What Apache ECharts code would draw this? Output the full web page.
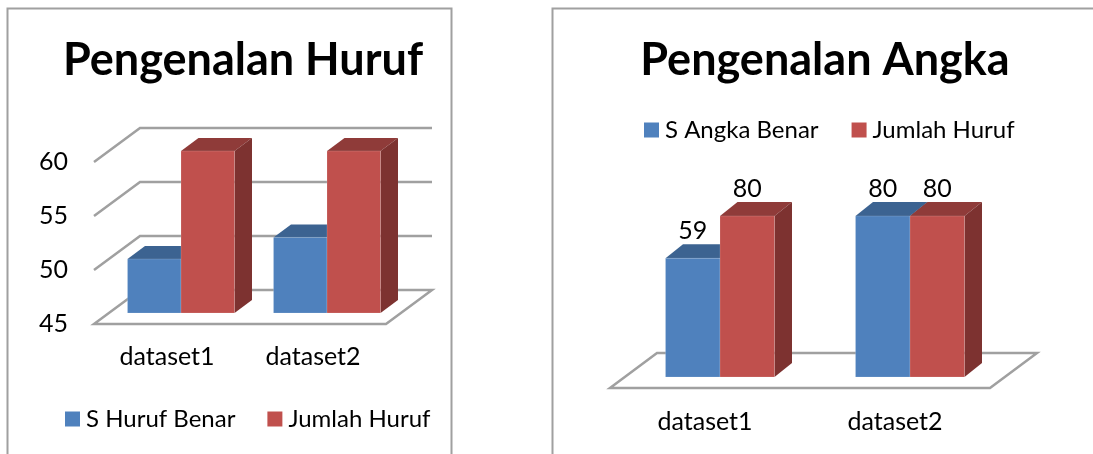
<!DOCTYPE html>
<html lang="en">
<head>
    <meta charset="UTF-8">
    <title>Pengenalan Huruf dan Angka</title>
    <script src="https://cdn.jsdelivr.net/npm/echarts@6/dist/echarts.min.js"></script>
    <style>
        html, body { margin: 0; padding: 0; background: #fff; overflow: hidden; }
        #chart { width: 1093px; height: 454px; }
    </style>
</head>
<body>
<div id="chart"></div>
<script type="application/javascript">
    // chart values
    var categories = ['dataset1', 'dataset2'];
    var hurufBenar = [50, 52];
    var hurufJumlah = [60, 60];
    var angkaBenar = [59, 80];
    var angkaJumlah = [80, 80];
    var hurufTicks = [45, 50, 55, 60];
    var angkaTicks = [0];

    var FONT = 'Lato';
    var blue = {front: '#4F81BD', top: '#3C6391', side: '#355980'};
    var red = {front: '#C0504D', top: '#8F3B39', side: '#7D3230'};
    var LINE = '#A0A0A0';

    var chart = echarts.init(document.getElementById('chart'));

    // walls and floor of the fake 3d box, one item per tick of the value axis
    function boxSeries(gridIndex, ticks, dx, dy) {
        return {
            type: 'custom',
            xAxisIndex: gridIndex,
            yAxisIndex: gridIndex,
            silent: true,
            clip: false,
            z: 1,
            data: ticks.map(function (v) { return [0, v]; }),
            renderItem: function (params, api) {
                var cs = params.coordSys;
                var y = api.coord([0, api.value(1)])[1];
                var x0 = cs.x, x1 = cs.x + cs.width;
                var lineStyle = {stroke: LINE, lineWidth: 2.5, fill: null};
                if (api.value(1) === ticks[0]) {
                    return {
                        type: 'polygon',
                        shape: {points: [[x0, y], [x0 + dx, y + dy], [x1 + dx, y + dy], [x1, y]]},
                        style: {fill: '#fff', stroke: LINE, lineWidth: 2.5}
                    };
                }
                return {
                    type: 'polyline',
                    shape: {points: [[x0, y], [x0 + dx, y + dy], [x1 + dx, y + dy]]},
                    style: lineStyle
                };
            }
        };
    }

    // one series of 3d looking columns, front/top/side faces
    function barSeries(gridIndex, name, values, order, colors, opt) {
        return {
            type: 'custom',
            name: name,
            xAxisIndex: gridIndex,
            yAxisIndex: gridIndex,
            clip: false,
            z: 2 + order,
            itemStyle: {color: colors.front},
            encode: {x: 0, y: 1},
            data: values.map(function (v, i) { return [i, v]; }),
            renderItem: function (params, api) {
                var top = api.coord([api.value(0), api.value(1)]);
                var base = api.coord([api.value(0), opt.min]);
                var w = opt.barWidth;
                var x0 = top[0] + opt.shiftX - w + order * w;
                var x1 = x0 + w;
                var yt = top[1] + opt.shiftY;
                var yb = base[1] + opt.shiftY;
                var edge = 'rgba(255,255,255,0.15)';
                var children = [
                    {
                        type: 'polygon',
                        shape: {points: [[x0, yt], [x0 + opt.dx, yt + opt.dy], [x1 + opt.dx, yt + opt.dy], [x1, yt]]},
                        style: {fill: colors.top}
                    },
                    {
                        type: 'polygon',
                        shape: {points: [[x1, yt], [x1 + opt.dx, yt + opt.dy], [x1 + opt.dx, yb + opt.dy], [x1, yb]]},
                        style: {fill: colors.side}
                    },
                    {
                        type: 'rect',
                        shape: {x: x0, y: yt, width: w, height: yb - yt},
                        style: {fill: colors.front, stroke: edge, lineWidth: 1}
                    }
                ];
                if (opt.showLabel) {
                    children.push({
                        type: 'text',
                        style: {
                            text: String(api.value(1)),
                            x: (x0 + x1) / 2,
                            y: yt - 27,
                            align: 'center',
                            verticalAlign: 'middle',
                            fontFamily: FONT,
                            fontSize: 25,
                            fill: '#000'
                        }
                    });
                }
                return {type: 'group', children: children};
            }
        };
    }

    var hurufOpt = {min: 45, barWidth: 53.5, shiftX: 14, shiftY: -11, dx: 17.5, dy: -13, showLabel: false};
    var angkaOpt = {min: 0, barWidth: 54.5, shiftX: 15, shiftY: -11, dx: 17.5, dy: -14, showLabel: true};

    var option = {
        backgroundColor: '#fff',
        animation: false,
        title: [
            {
                text: 'Pengenalan Huruf',
                left: 238,
                top: 33,
                textAlign: 'center',
                textStyle: {fontFamily: FONT, fontWeight: 'bold', fontSize: 45, color: '#000'}
            },
            {
                text: 'Pengenalan Angka',
                left: 820,
                top: 33,
                textAlign: 'center',
                textStyle: {fontFamily: FONT, fontWeight: 'bold', fontSize: 45, color: '#000'}
            }
        ],
        legend: [
            {
                data: ['S Huruf Benar', 'Jumlah Huruf'],
                left: 60,
                top: 402,
                icon: 'rect',
                itemWidth: 15,
                itemHeight: 15,
                itemGap: 32,
                selectedMode: false,
                textStyle: {fontFamily: FONT, fontSize: 24, color: '#000', padding: [0, 0, 0, 1]}
            },
            {
                data: ['S Angka Benar', 'Jumlah Huruf'],
                left: 639,
                top: 113,
                icon: 'rect',
                itemWidth: 15,
                itemHeight: 15,
                itemGap: 33,
                selectedMode: false,
                textStyle: {fontFamily: FONT, fontSize: 24, color: '#000', padding: [0, 0, 0, 1]}
            }
        ],
        grid: [
            {left: 94, top: 162, width: 292, height: 162},
            {left: 610, top: 227, width: 380, height: 161}
        ],
        xAxis: [
            {
                type: 'category',
                gridIndex: 0,
                data: categories,
                axisLine: {show: false},
                axisTick: {show: false},
                axisLabel: {fontFamily: FONT, fontSize: 25, color: '#000', margin: 20}
            },
            {
                type: 'category',
                gridIndex: 1,
                data: categories,
                axisLine: {show: false},
                axisTick: {show: false},
                axisLabel: {fontFamily: FONT, fontSize: 25, color: '#000', margin: 21}
            }
        ],
        yAxis: [
            {
                type: 'value',
                gridIndex: 0,
                min: 45,
                max: 60,
                interval: 5,
                axisLine: {show: false},
                axisTick: {show: false},
                splitLine: {show: false},
                axisLabel: {fontFamily: FONT, fontSize: 25, color: '#000', margin: 26}
            },
            {
                type: 'value',
                gridIndex: 1,
                min: 0,
                max: 80,
                show: false,
                splitLine: {show: false}
            }
        ],
        graphic: [
            {type: 'polyline', silent: true, shape: {points: [[7.5, 454], [7.5, 8.5], [451.5, 8.5], [451.5, 454]]}, style: {stroke: '#A0A0A0', lineWidth: 2, fill: null}},
            {type: 'polyline', silent: true, shape: {points: [[552.5, 454], [552.5, 8.5], [1093, 8.5]]}, style: {stroke: '#A0A0A0', lineWidth: 2, fill: null}}
        ],
        series: [
            boxSeries(0, hurufTicks, 46, -34),
            barSeries(0, 'S Huruf Benar', hurufBenar, 0, blue, hurufOpt),
            barSeries(0, 'Jumlah Huruf', hurufJumlah, 1, red, hurufOpt),
            boxSeries(1, angkaTicks, 47, -35),
            barSeries(1, 'S Angka Benar', angkaBenar, 0, blue, angkaOpt),
            barSeries(1, 'Jumlah Huruf', angkaJumlah, 1, red, angkaOpt)
        ]
    };
    chart.setOption(option);
</script>
</body>
</html>
